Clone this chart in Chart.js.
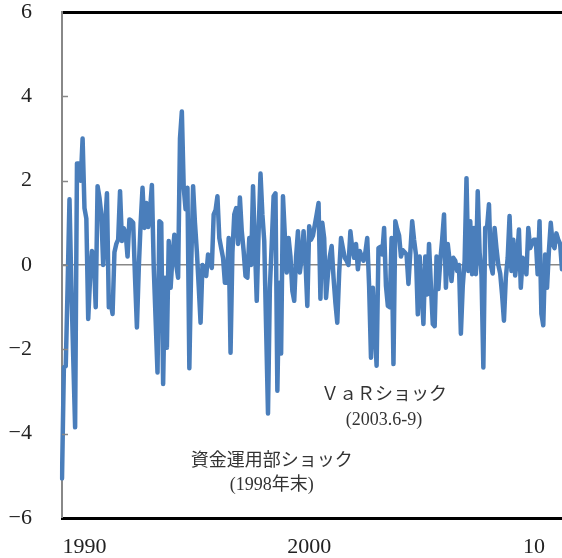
<!DOCTYPE html>
<html>
<head>
<meta charset="utf-8">
<script src="https://cdn.jsdelivr.net/npm/chart.js@4.4.1/dist/chart.umd.min.js"></script>
<style>
    html, body { margin: 0; padding: 0; background: #fff; overflow: hidden; }
    #wrap { width: 562px; height: 558px; }
</style>
</head>
<body>
<div id="wrap"><canvas id="grafico" width="562" height="558"></canvas></div>
<script>
// monthly series, Jan 1989 onwards
const startYear = 1989
const values = [
    -5.06, -2.43, -2.4, -0.5, 1.56, -0.5, -2.2, -3.85, 2.41, 2.41, 2.0, 3.0,
    1.35, 1.1, -1.28, -0.3, 0.33, 0.2, -1.0, 1.87, 1.6, 1.2, 0.0, 0.9,
    1.7, -1.0, -0.9, -1.16, 0.3, 0.5, 0.6, 1.75, 0.57, 0.87, 0.75, 0.2,
    1.08, 1.05, 1.0, -0.3, -1.48, -0.07, 1.0, 1.83, 0.88, 1.47, 0.9, 1.3,
    1.9, -0.07, -1.3, -2.55, 1.04, 1.0, -2.82, -0.3, -1.96, 0.57, -0.54, 0.2,
    0.72, 0.0, -0.3, 3.0, 3.64, 1.83, 1.32, 1.83, -2.45, 0.0, 1.87, 1.0,
    0.33, -0.5, -1.37, 0.0, -0.1, -0.26, 0.25, 0.1, -0.07, 1.2, 1.3, 1.63,
    0.64, 0.4, 0.17, -0.42, -0.42, 0.64, -2.08, 0.3, 1.2, 1.35, 0.5, 1.6,
    0.8, 0.33, -0.26, -0.3, 0.64, 0.0, 1.87, 0.5, -0.85, 0.8, 2.17, 1.2,
    0.57, -1.5, -3.52, -0.54, 0.5, 1.63, 1.7, -2.98, -0.42, -2.1, 1.63, 0.7,
    -0.18, 0.64, 0.2, -0.61, -0.85, 0.2, 0.8, -0.18, 0.17, 0.8, 0.1, -0.97,
    0.92, 0.6, 0.7, 0.95, 1.2, 1.47, -0.8, 1.0, 0.64, -0.78, -0.22, 0.2,
    0.45, -0.3, -0.9, -1.37, -0.2, 0.64, 0.4, 0.17, 0.1, 0.0, 0.8, 0.4,
    0.17, 0.5, -0.1, 0.33, 0.2, 0.1, 0.3, 0.64, -0.5, -2.2, -0.54, -1.5,
    -2.39, 0.4, 0.43, 0.25, 0.88, -0.5, -0.97, -1.0, 0.64, -2.35, 1.04, 0.85,
    0.7, 0.2, 0.35, 0.3, 0.25, -0.45, 0.3, 1.04, 0.6, 0.25, -1.17, 0.2,
    -0.6, -1.4, 0.2, -0.7, 0.5, -0.5, -1.4, -1.45, 0.2, -0.57, 0.1, 0.6,
    1.2, -0.54, 0.5, 0.1, -0.38, 0.17, 0.1, -0.14, 0.0, -1.63, -0.5, 0.1,
    2.06, -0.14, 1.04, -0.22, 0.88, -0.22, 1.75, 0.3, -0.22, -2.43, 0.88, 0.9,
    1.44, 0.0, -0.2, 0.88, 0.4, 0.0, -0.2, -0.7, -1.32, -0.3, 0.17, 1.16,
    -0.14, 0.6, -0.25, 0.17, 0.84, -0.54, 0.17, 0.0, -0.22, 0.88, 0.4, 0.5,
    0.6, 0.6, -0.22, 1.04, -1.16, -1.43, 0.25, -0.54, 0.33, 1.0, 0.5, 0.4,
    0.75, 0.6, 0.5, -0.1
]
const meses = values.map((v, i) => `${startYear + Math.floor(i / 12)}/${i % 12 + 1}`)

const tickMonths = ['1990/1', '2000/1', '2010/1']
const tickLabels = ['1990', '2000', '10']
const yMin = -6
const yMax = 6
const yStep = 2

// annotation texts, anchored at a month and a value
const notas = [
    { mes: '2003/5', valor: -3.1, texto: 'ＶａＲショック' },
    { mes: '2003/5', valor: -3.68, texto: '(2003.6-9)' },
    { mes: '1998/5', valor: -4.65, texto: '資金運用部ショック' },
    { mes: '1998/5', valor: -5.22, texto: '(1998年末)' }
]

const serif = '"Liberation Serif", "DejaVu Serif", "Noto Sans CJK JP", serif'

const extras = {
    id: 'extras',
    afterDraw(chart) {
        const ctx = chart.ctx
        const x = chart.scales.x
        const y = chart.scales.y
        ctx.save()
        // small tick marks inside the left axis
        ctx.strokeStyle = '#888'
        ctx.lineWidth = 1.5
        for (let v = yMin + yStep; v < yMax; v += yStep) {
            const py = Math.round(y.getPixelForValue(v)) + 0.5
            ctx.beginPath()
            ctx.moveTo(x.left, py)
            ctx.lineTo(x.left + 6, py)
            ctx.stroke()
        }
        ctx.fillStyle = '#333'
        ctx.textAlign = 'center'
        ctx.textBaseline = 'middle'
        ctx.font = '18px ' + serif
        notas.forEach(n => {
            const px = x.getPixelForValue(meses.indexOf(n.mes))
            ctx.fillText(n.texto, px, y.getPixelForValue(n.valor))
        })
        ctx.restore()
    }
}

new Chart(document.getElementById('grafico'), {
    type: 'line',
    data: {
        labels: meses,
        datasets: [{
            data: values,
            borderColor: '#4a7ebb',
            borderWidth: 4.5,
            borderJoinStyle: 'round',
            borderCapStyle: 'round',
            pointRadius: 0,
            tension: 0
        }]
    },
    options: {
        responsive: false,
        animation: false,
        devicePixelRatio: 1,
        layout: { padding: 0 },
        plugins: {
            legend: { display: false },
            tooltip: { enabled: false }
        },
        scales: {
            x: {
                type: 'category',
                offset: false,
                grid: { display: false, drawTicks: false },
                border: { color: '#000', width: 3 },
                afterFit: (scale) => { scale.height = 40 },
                ticks: {
                    autoSkip: false,
                    maxRotation: 0,
                    padding: 16,
                    color: '#222',
                    font: { family: serif, size: 22 },
                    callback: function (val, i) {
                        const k = tickMonths.indexOf(meses[i])
                        return k >= 0 ? tickLabels[k] : null
                    }
                }
            },
            y: {
                min: yMin,
                max: yMax,
                afterFit: (scale) => {
                    scale.width = 62
                    scale.paddingTop = 12
                    scale.paddingBottom = 0
                },
                grid: {
                    drawTicks: false,
                    color: (c) => c.tick.value === 0 ? '#888' : (c.tick.value === yMax ? '#000' : 'rgba(0,0,0,0)'),
                    lineWidth: (c) => c.tick.value === 0 ? 1.5 : (c.tick.value === yMax ? 3 : 0)
                },
                border: { color: '#888', width: 2 },
                ticks: {
                    stepSize: yStep,
                    padding: 30,
                    color: '#222',
                    font: { family: serif, size: 22 },
                    callback: (v) => v < 0 ? '−' + Math.abs(v) : String(v)
                }
            }
        }
    },
    plugins: [extras]
})
</script>
</body>
</html>
